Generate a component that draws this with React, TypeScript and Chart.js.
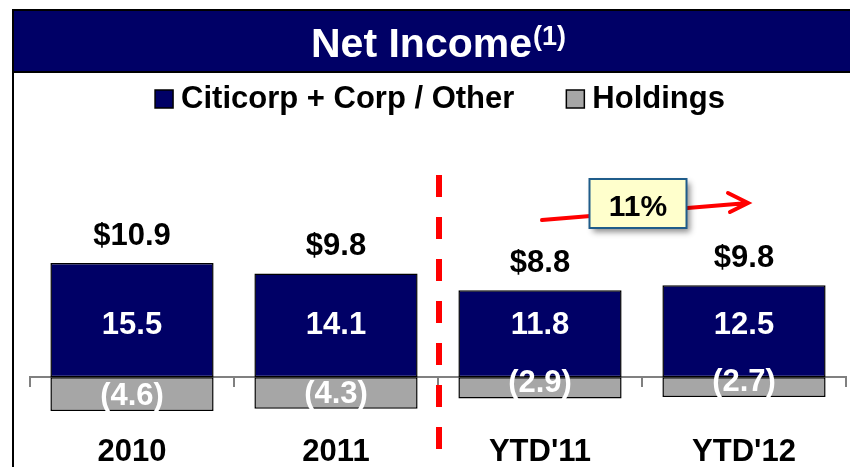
import React, { useEffect, useRef } from "react";
import { Chart, registerables } from "chart.js";

Chart.register(...registerables);

// ---- data ----
const categories = ["2010", "2011", "YTD'11", "YTD'12"];
const citicorpValues = [15.5, 14.1, 11.8, 12.5];
const holdingsValues = [-4.6, -4.3, -2.9, -2.7];
const totalValues = [10.9, 9.8, 8.8, 9.8];
const seriesNames = ["Citicorp + Corp / Other", "Holdings"];
const growthLabel = "11%";
const titleText = "Net Income";
const titleSup = "(1)";

const NAVY = "#000066";
const GRAY = "#A6A6A6";
const RED = "#FF0000";
const FONT = '"Liberation Sans", Arial, Helvetica, sans-serif';

const fmtPos = (v: number) => v.toFixed(1);
const fmtNeg = (v: number) => `(${Math.abs(v).toFixed(1)})`;
const fmtTotal = (v: number) => `$${v.toFixed(1)}`;

const decorPlugin = {
  id: "decor",
  beforeDraw(chart: any) {
    const ctx = chart.ctx as CanvasRenderingContext2D;
    ctx.save();
    ctx.fillStyle = "#FFFFFF";
    ctx.fillRect(0, 0, chart.width, chart.height);
    ctx.restore();
  },
  afterDraw(chart: any) {
    const ctx = chart.ctx as CanvasRenderingContext2D;
    const xs = chart.scales.x;
    const ys = chart.scales.y;
    const W = chart.width;
    const H = chart.height;
    ctx.save();

    // banner
    ctx.fillStyle = NAVY;
    ctx.fillRect(13, 10, W + 10, 62);
    ctx.strokeStyle = "#000";
    ctx.lineWidth = 2;
    ctx.strokeRect(13, 10, W + 10, 62);
    ctx.beginPath();
    ctx.moveTo(13, 10);
    ctx.lineTo(13, H);
    ctx.stroke();

    // title
    ctx.fillStyle = "#FFFFFF";
    ctx.textBaseline = "alphabetic";
    ctx.textAlign = "left";
    ctx.font = `bold 41px ${FONT}`;
    const w1 = ctx.measureText(titleText).width;
    ctx.font = `bold 27px ${FONT}`;
    const w2 = ctx.measureText(titleSup).width;
    const tx = 438 - (w1 + w2) / 2;
    ctx.font = `bold 41px ${FONT}`;
    ctx.fillText(titleText, tx, 57);
    ctx.font = `bold 27px ${FONT}`;
    ctx.fillText(titleSup, tx + w1 + 1, 45);

    // legend
    const ds = chart.data.datasets;
    ctx.font = `bold 31px ${FONT}`;
    const box = 18;
    const gapBox = 8;
    const gapItem = 52;
    const widths = ds.map((d: any) => ctx.measureText(d.label).width);
    let total = 0;
    widths.forEach((w: number, i: number) => {
      total += box + gapBox + w + (i < widths.length - 1 ? gapItem : 0);
    });
    let lx = 440 - total / 2;
    ds.forEach((d: any, i: number) => {
      ctx.fillStyle = d.backgroundColor;
      ctx.fillRect(lx, 90, box, box);
      ctx.strokeStyle = "#000";
      ctx.lineWidth = 1.5;
      ctx.strokeRect(lx, 90, box, box);
      ctx.fillStyle = "#000";
      ctx.fillText(d.label, lx + box + gapBox, 108);
      lx += box + gapBox + widths[i] + gapItem;
    });

    // value labels
    const zero = ys.getPixelForValue(0);
    const m0 = chart.getDatasetMeta(0);
    const m1 = chart.getDatasetMeta(1);
    ctx.textAlign = "center";
    categories.forEach((_, i) => {
      const b0 = m0.data[i];
      const b1 = m1.data[i];
      ctx.fillStyle = "#000";
      ctx.font = `bold 31px ${FONT}`;
      ctx.fillText(fmtTotal(totalValues[i]), b0.x, b0.y - 18);
      ctx.fillStyle = "#FFFFFF";
      ctx.font = `bold 31px ${FONT}`;
      ctx.fillText(fmtPos(citicorpValues[i]), b0.x, zero - 43);
      ctx.fillText(fmtNeg(holdingsValues[i]), b1.x, b1.y - 6);
    });

    // dashed divider between full-year and YTD
    const dx = (xs.getPixelForValue(1) + xs.getPixelForValue(2)) / 2 + 1;
    ctx.strokeStyle = RED;
    ctx.lineWidth = 6;
    ctx.setLineDash([22, 20]);
    ctx.beginPath();
    ctx.moveTo(dx, 175);
    ctx.lineTo(dx, H);
    ctx.stroke();
    ctx.setLineDash([]);

    // growth arrow
    const p2 = xs.getPixelForValue(2);
    const p3 = xs.getPixelForValue(3);
    const ax1 = p2 + 2, ay1 = 220;
    const ax2 = p3 + 4, ay2 = 203;
    ctx.strokeStyle = RED;
    ctx.lineWidth = 4;
    ctx.lineCap = "round";
    ctx.beginPath();
    ctx.moveTo(ax1, ay1);
    ctx.lineTo(ax2, ay2);
    ctx.moveTo(ax2 - 20, ay2 - 10);
    ctx.lineTo(ax2, ay2);
    ctx.lineTo(ax2 - 18, ay2 + 9);
    ctx.stroke();
    ctx.lineCap = "butt";

    // growth box
    const bcx = (p2 + p3) / 2 - 4;
    const bw = 97, bh = 49;
    const bx = bcx - bw / 2, by = 179;
    ctx.save();
    ctx.shadowColor = "rgba(0,0,0,0.45)";
    ctx.shadowBlur = 6;
    ctx.shadowOffsetX = 3;
    ctx.shadowOffsetY = 4;
    ctx.fillStyle = "#FFFFCC";
    ctx.fillRect(bx, by, bw, bh);
    ctx.restore();
    ctx.strokeStyle = "#1F5C8A";
    ctx.lineWidth = 2;
    ctx.strokeRect(bx, by, bw, bh);
    ctx.fillStyle = "#000";
    ctx.font = `bold 30px ${FONT}`;
    ctx.textAlign = "center";
    ctx.fillText(growthLabel, bcx, 216);

    ctx.restore();
  },
};

export default function App() {
  const ref = useRef<HTMLCanvasElement | null>(null);
  useEffect(() => {
    if (!ref.current) return;
    const chart = new Chart(ref.current, {
      type: "bar",
      data: {
        labels: categories,
        datasets: [
          {
            label: seriesNames[0],
            data: citicorpValues,
            backgroundColor: NAVY,
            borderColor: "#000",
            borderWidth: 1.5,
            borderSkipped: false,
            categoryPercentage: 0.8,
            barPercentage: 1.0,
          },
          {
            label: seriesNames[1],
            data: holdingsValues,
            backgroundColor: GRAY,
            borderColor: "#000",
            borderWidth: 1.5,
            borderSkipped: false,
            categoryPercentage: 0.8,
            barPercentage: 1.0,
          },
        ],
      },
      options: {
        animation: false,
        responsive: false,
        devicePixelRatio: 1,
        layout: { padding: { left: 30, right: 4, top: 127, bottom: 31 } },
        plugins: {
          legend: { display: false },
          title: { display: false },
          tooltip: { enabled: false },
        },
        scales: {
          x: {
            stacked: true,
            position: { y: 0 } as any,
            z: 1,
            grid: {
              display: true,
              offset: true,
              drawOnChartArea: false,
              drawTicks: true,
              tickLength: 9,
              color: "#808080",
              lineWidth: 2,
            },
            border: { display: true, color: "#808080", width: 2 },
            ticks: {
              color: "#000",
              font: { family: FONT, size: 31, weight: "bold" },
              padding: 48,
              maxRotation: 0,
              autoSkip: false,
            },
          },
          y: { stacked: true, display: false, min: -8, max: 34 },
        },
      },
      plugins: [decorPlugin],
    } as any);
    return () => chart.destroy();
  }, []);
  return (
    <div style={{ position: "absolute", left: 0, top: 0, width: 850, height: 467 }}>
      <canvas ref={ref} width={850} height={467} style={{ display: "block" }} />
    </div>
  );
}
